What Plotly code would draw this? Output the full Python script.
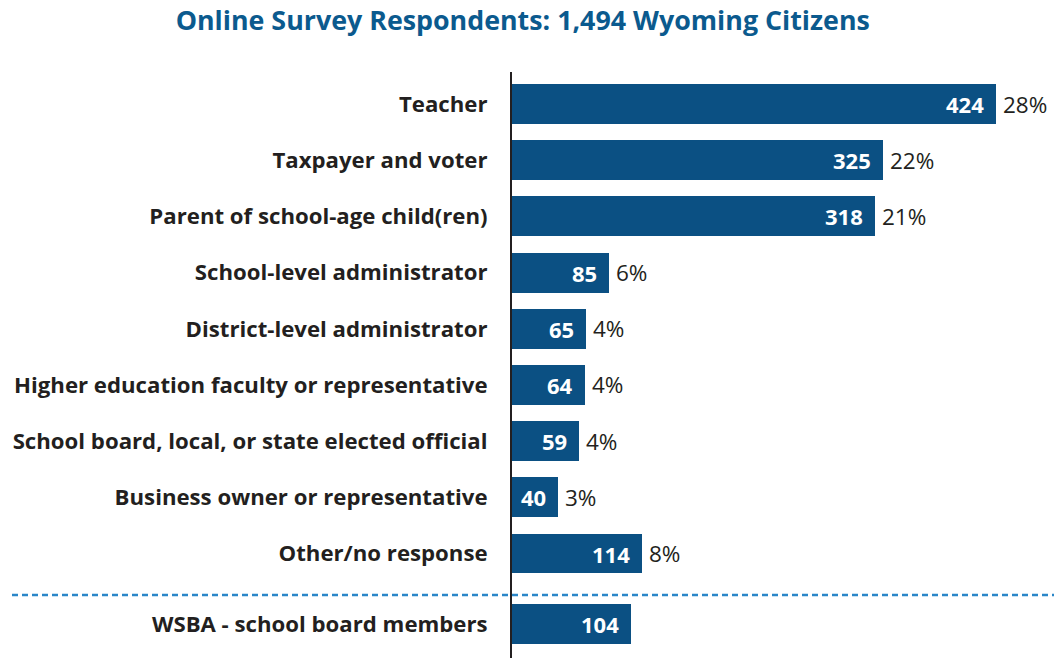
import plotly.graph_objects as go

# Respondent roles and their counts
categories = [
    "Teacher",
    "Taxpayer and voter",
    "Parent of school-age child(ren)",
    "School-level administrator",
    "District-level administrator",
    "Higher education faculty or representative",
    "School board, local, or state elected official",
    "Business owner or representative",
    "Other/no response",
    "WSBA - school board members",
]
counts = [424, 325, 318, 85, 65, 64, 59, 40, 114, 104]
shares = ["28%", "22%", "21%", "6%", "4%", "4%", "4%", "3%", "8%", ""]

# Row positions: the WSBA row sits below a separator with a bit of extra space
row_pos = [0, 1, 2, 3, 4, 5, 6, 7, 8, 9.26]
separator_pos = 8.74

BAR = "#0b5083"
TITLE = "#0b5a8e"
TEXT = "#231f20"
FONT = "Open Sans"

fig = go.Figure()
fig.add_trace(go.Bar(
    x=counts,
    y=row_pos,
    orientation="h",
    width=0.71,
    marker=dict(color=BAR, line=dict(width=0)),
    hoverinfo="skip",
))

annotations = []
for c, y, s in zip(counts, row_pos, shares):
    annotations.append(dict(
        x=c, y=y, xref="x", yref="y", text=f"<b>{c}</b>",
        showarrow=False, xanchor="right", yanchor="middle", xshift=-10,
        font=dict(family=FONT, size=22, color="white"),
    ))
    if s:
        annotations.append(dict(
            x=c, y=y, xref="x", yref="y", text=s,
            showarrow=False, xanchor="left", yanchor="middle", xshift=5,
            font=dict(family=FONT, size=22.5, color=TEXT),
        ))

fig.update_layout(
    width=1054, height=658,
    margin=dict(l=512, r=0, t=72, b=0),
    paper_bgcolor="white", plot_bgcolor="white",
    showlegend=False,
    bargap=0,
    title=dict(
        text="<b>Online Survey Respondents: 1,494 Wyoming Citizens</b>",
        x=0.496, xanchor="center", y=0.968, yanchor="middle",
        font=dict(family=FONT, size=26.8, color=TITLE),
    ),
    xaxis=dict(range=[0, 474.8], visible=False, fixedrange=True),
    yaxis=dict(
        range=[9.86, -0.57],
        tickvals=row_pos, ticktext=[f"<b>{c}</b>" for c in categories],
        ticklabelstandoff=18,
        tickfont=dict(family=FONT, size=22.2, color=TEXT),
        showgrid=False, zeroline=False, ticks="",
        showline=True, linecolor="#231f20", linewidth=2,
        fixedrange=True,
    ),
    annotations=annotations,
    shapes=[dict(
        type="line", xref="paper", yref="y",
        x0=-0.9225, x1=1, y0=separator_pos, y1=separator_pos,
        line=dict(color="#2a86c8", width=2.5, dash="6px,4px"),
    )],
)

fig.write_html("out.html")
